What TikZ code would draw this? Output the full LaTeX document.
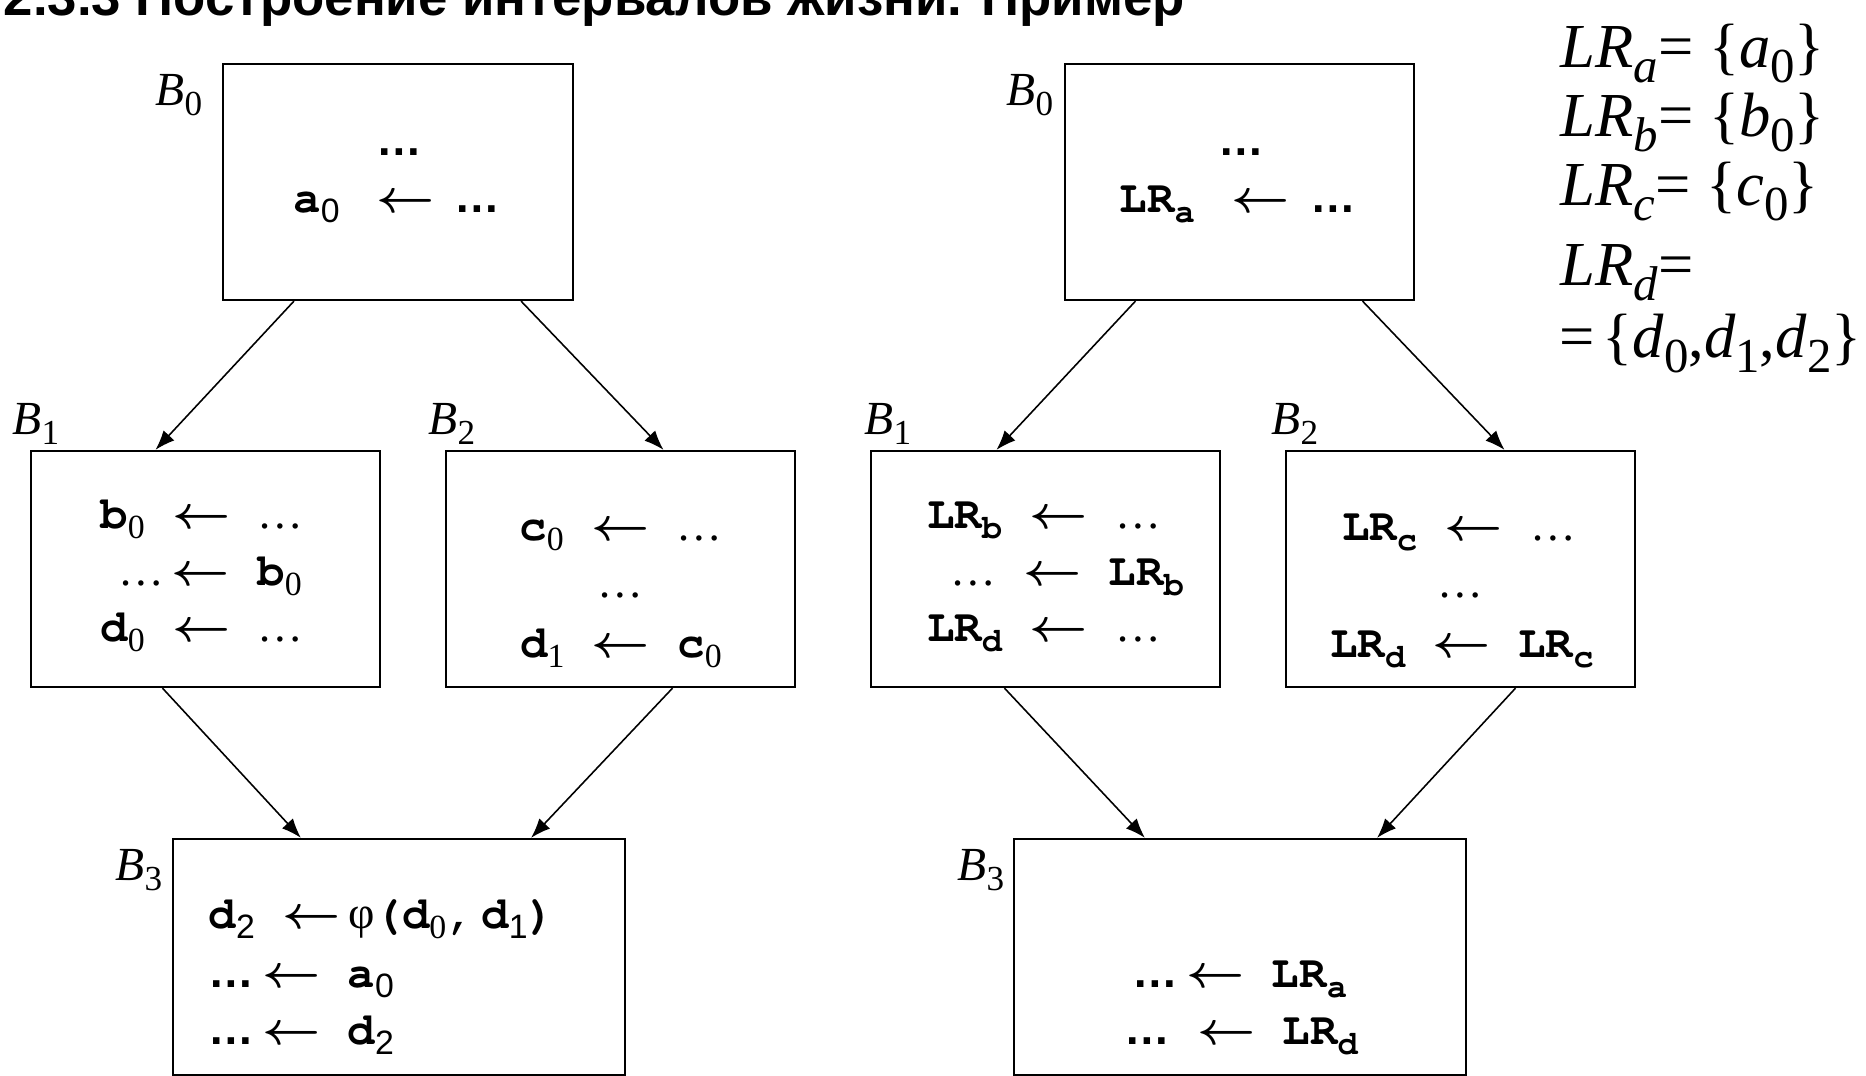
\documentclass[tikz,border=0pt]{standalone}
\usepackage{fontspec}
\usepackage{graphicx}
\usetikzlibrary{arrows.meta}

\newfontfamily\serifam{Liberation Serif}
\newfontfamily\sansfam{Liberation Sans}

\newcommand{\codefont}{\fontencoding{T1}\fontfamily{pcr}\fontseries{b}\fontsize{13}{16}\selectfont}
\newcommand{\labfont}{\serifam\fontsize{13.5}{16}\selectfont}
\newcommand{\eqfont}{\serifam\fontsize{17.8}{22}\selectfont}
\newcommand{\titlefont}{\sansfam\bfseries\fontsize{15}{18}\selectfont}

\newcommand{\lowr}[1]{\raisebox{-0.22em}{\scalebox{0.74}{#1}}}
\newcommand{\eqlowr}[1]{\raisebox{-0.25em}{\scalebox{0.78}{#1}}}
\newcommand{\larr}{\scalebox{1.2}[1.1]{\boldmath$\leftarrow$}}
\newcommand{\rdots}{{\serifam\mdseries …}}
\newcommand{\sdots}{{\sansfam\bfseries …}}
\newcommand{\vserif}[2]{#1\lowr{{\serifam\mdseries #2}}}
\newcommand{\vsans}[2]{#1\lowr{{\sansfam\mdseries #2}}}
\newcommand{\LR}[1]{LR\lowr{#1}}

\begin{document}
\begin{tikzpicture}[x=0.01cm, y=-0.01cm, >={Latex[length=5.6pt,width=4.2pt]}]
    \tikzstyle{block}=[draw, line width=0.6pt, minimum width=3.49cm, minimum height=2.36cm, inner sep=0pt]
    \tikzstyle{wide block}=[block, minimum width=4.52cm]
    \tikzstyle{code}=[font=\codefont, inner sep=0pt, anchor=base]
    \tikzstyle{blabel}=[font=\labfont, inner sep=0pt, anchor=base west]
    \tikzstyle{eqn}=[font=\eqfont, inner sep=0pt, anchor=base west]
    \tikzstyle{arr}=[->, line width=0.45pt]

    \useasboundingbox (0,0) rectangle (1866,1075);

    % Title (cut at the top of the slide)
    \node[font=\titlefont, inner sep=0pt, anchor=base west] (title) at (3,15)
        {2.3.3 Построение интервалов жизни. Пример};

    % Left graph: SSA names
    \node[block] (L0) at (398,182) {};
    \node[block] (L1) at (205.5,569) {};
    \node[block] (L2) at (620.5,569) {};
    \node[wide block] (L3) at (399,957) {};

    \node[code] (L0-1) at (399,155) {\sdots};
    \node[code] (L0-2) at (397,212) {\vsans{a}{0}\hspace{0.8em}\larr\hspace{0.45em}\sdots};

    \node[code] (L1-1) at (202,528) {\vserif{b}{0} \larr{} \rdots};
    \node[code] (L1-2) at (210,585) {\rdots\,\larr{} \vserif{b}{0}};
    \node[code] (L1-3) at (202,641) {\vserif{d}{0} \larr{} \rdots};

    \node[code] (L2-1) at (621,540) {\vserif{c}{0} \larr{} \rdots};
    \node[code] (L2-2) at (620,597) {\rdots};
    \node[code] (L2-3) at (621,657) {\vserif{d}{1} \larr{} \vserif{c}{0}};

    \node[code, anchor=base west] (L3-1) at (208,928)
        {\vsans{d}{2} \larr\,{\serifam\mdseries φ}(\vserif{d}{0},\,\vsans{d}{1})};
    \node[code, anchor=base west] (L3-2) at (208,987) {\sdots\,\larr{} \vsans{a}{0}};
    \node[code, anchor=base west] (L3-3) at (208,1044) {\sdots\,\larr{} \vsans{d}{2}};

    % Right graph: live ranges
    \node[block] (R0) at (1239.5,182) {};
    \node[block] (R1) at (1045.5,569) {};
    \node[block] (R2) at (1460.5,569) {};
    \node[wide block] (R3) at (1240,957) {};

    \node[code] (R0-1) at (1241,155) {\sdots};
    \node[code] (R0-2) at (1238,212) {\LR{a}\hspace{0.8em}\larr\hspace{0.45em}\sdots};

    \node[code] (R1-1) at (1044,528) {\LR{b} \larr{} \rdots};
    \node[code] (R1-2) at (1067,585) {\rdots\ \larr{} \LR{b}};
    \node[code] (R1-3) at (1044,641) {\LR{d} \larr{} \rdots};

    \node[code] (R2-1) at (1459,540) {\LR{c} \larr{} \rdots};
    \node[code] (R2-2) at (1460,597) {\rdots};
    \node[code] (R2-3) at (1462,657) {\LR{d} \larr{} \LR{c}};

    \node[code] (R3-1) at (1240,987) {\sdots\,\larr{} \LR{a}};
    \node[code] (R3-2) at (1241,1044) {\sdots\ \larr{} \LR{d}};

    % Block names
    \foreach \b/\n/\x/\y in {L0/0/155/105, R0/0/1006/105, L1/1/12/434, L2/2/428/434,
                             R1/1/864/434, R2/2/1271/434, L3/3/115/880, R3/3/957/880}
        \node[blabel] (lab-\b) at (\x,\y) {\textit{B}\lowr{\n}};

    % Control flow edges
    \foreach \s/\t/\a/\b in {L0/L1/-1.04/-0.50, L0/L2/1.23/0.43, L1/L3/-0.43/-0.98, L2/L3/0.52/1.32,
                             R0/R1/-1.04/-0.49, R0/R2/1.23/0.44, R1/R3/-0.41/-0.95, R2/R3/0.55/1.37}
        \draw[arr] ([xshift=\a cm]\s.south) -- ([xshift=\b cm]\t.north);

    % Live ranges
    \node[eqn] (eq-a) at (1560,67) {\textit{LR}\eqlowr{\textit{a}}=\hspace{0.25em}\{\textit{a}\eqlowr{0}\}};
    \node[eqn] (eq-b) at (1560,136) {\textit{LR}\eqlowr{\textit{b}}=\hspace{0.25em}\{\textit{b}\eqlowr{0}\}};
    \node[eqn] (eq-c) at (1560,205) {\textit{LR}\eqlowr{\textit{c}}=\hspace{0.25em}\{\textit{c}\eqlowr{0}\}};
    \node[eqn] (eq-d) at (1560,285) {\textit{LR}\eqlowr{\textit{d}}=};
    \node[eqn] (eq-d2) at (1559,357)
        {=\hspace{0.12em}\{\textit{d}\eqlowr{0},\textit{d}\eqlowr{1},\textit{d}\eqlowr{2}\}};
\end{tikzpicture}
\end{document}
